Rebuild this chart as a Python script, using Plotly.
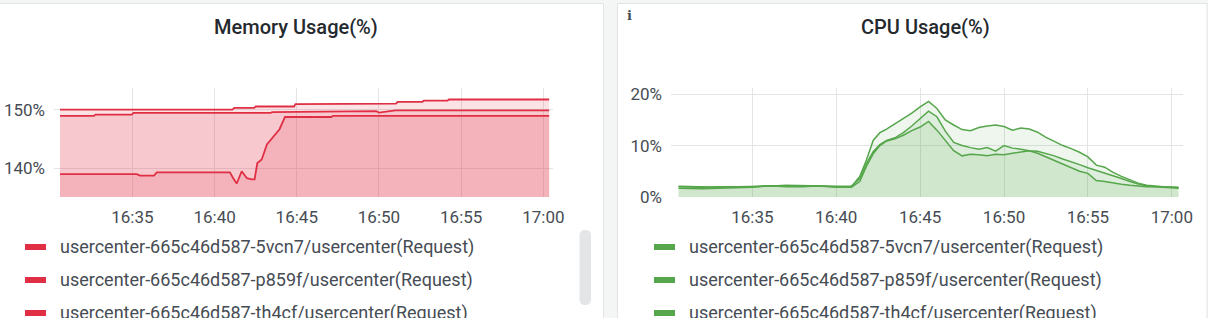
import re
import plotly.graph_objects as go

DAY = "2023-06-01 "
W, H = 1208, 318

# ---------------- data ----------------
legend_names = [
    "usercenter-665c46d587-5vcn7/usercenter(Request)",
    "usercenter-665c46d587-p859f/usercenter(Request)",
    "usercenter-665c46d587-th4cf/usercenter(Request)",
]

mem_t1 = ["16:30:36", "16:41:05", "16:41:12", "16:42:25", "16:42:30", "16:44:50", "16:44:55",
          "16:48:05", "16:48:10", "16:51:02", "16:51:08", "16:52:38", "16:52:44", "16:54:10",
          "16:54:15", "17:00:21"]
mem_v1 = [150.05, 150.05, 150.35, 150.35, 150.6, 150.6, 151.0, 151.0, 151.1, 151.1, 151.4,
          151.4, 151.6, 151.6, 151.8, 151.8]

mem_t2 = ["16:30:36", "16:32:40", "16:32:45", "16:34:58", "16:35:04", "16:43:25", "16:43:30",
          "16:47:00", "16:49:50", "16:50:00", "16:50:50", "16:51:00", "17:00:21"]
mem_v2 = [149.0, 149.0, 149.2, 149.2, 149.5, 149.5, 149.65, 149.75, 149.8, 149.55, 149.8,
          149.95, 149.95]

mem_t3 = ["16:30:36", "16:35:16", "16:35:28", "16:36:19", "16:36:29", "16:40:56", "16:41:08",
          "16:41:21", "16:41:39", "16:41:58", "16:42:16", "16:42:26", "16:42:36", "16:42:52",
          "16:43:11", "16:43:35", "16:43:57", "16:44:17", "16:47:06", "16:47:12", "17:00:21"]
mem_v3 = [139.0, 139.0, 138.75, 138.75, 139.3, 139.3, 138.3, 137.4, 139.5, 138.3, 138.1,
          138.1, 140.9, 141.5, 144.1, 145.5, 146.7, 148.8, 148.8, 149.0, 149.0]

cpu_t = ["16:30:36", "16:32:00", "16:33:00", "16:34:00", "16:35:00", "16:36:00", "16:37:00",
         "16:38:00", "16:39:00", "16:40:00", "16:40:54", "16:41:24", "16:41:48", "16:42:12",
         "16:42:36", "16:43:00", "16:43:30", "16:44:00", "16:44:30", "16:45:00", "16:45:30",
         "16:46:00", "16:46:30", "16:47:00", "16:47:30", "16:48:00", "16:48:30", "16:49:00",
         "16:49:30", "16:50:00", "16:50:30", "16:51:00", "16:51:30", "16:52:00", "16:52:30",
         "16:53:00", "16:53:30", "16:54:00", "16:54:30", "16:55:00", "16:55:30", "16:56:00",
         "16:56:30", "16:57:00", "16:57:30", "16:58:00", "16:58:30", "16:59:00", "16:59:30",
         "17:00:00", "17:00:24"]
cpu_v1 = [2.0, 1.9, 2.0, 2.0, 2.0, 2.2, 2.2, 2.1, 2.1, 2.0, 2.0, 4.0, 7.2, 11.0, 12.5,
          13.2, 14.2, 15.2, 16.3, 17.5, 18.6, 17.2, 15.0, 14.0, 13.1, 12.9, 13.5, 13.8, 14.0,
          13.7, 13.0, 13.4, 13.2, 12.6, 11.6, 10.8, 10.0, 9.4, 8.7, 7.8, 6.2, 5.8, 4.8, 4.0,
          3.3, 2.7, 2.3, 2.1, 2.0, 1.9, 1.8]
cpu_v2 = [2.1, 2.0, 1.9, 2.0, 2.0, 2.1, 2.3, 2.2, 2.1, 2.1, 2.1, 3.6, 6.5, 8.8, 10.2,
          11.0, 11.5, 12.5, 13.8, 15.2, 16.7, 15.6, 12.8, 10.6, 10.0, 9.6, 9.3, 9.6, 8.9,
          10.0, 9.5, 9.3, 9.0, 8.9, 8.5, 8.0, 7.4, 6.9, 6.3, 5.7, 5.2, 4.7, 4.2, 3.6,
          3.0, 2.5, 2.2, 2.0, 2.0, 1.9, 1.9]
cpu_v3 = [1.7, 1.6, 1.7, 1.8, 1.9, 2.2, 2.0, 2.0, 2.2, 1.9, 1.9, 3.0, 6.0, 8.4, 10.0,
          10.9, 11.3, 12.0, 12.9, 13.6, 14.7, 13.0, 11.0, 9.0, 8.0, 8.3, 8.2, 8.0, 8.3,
          8.2, 8.5, 8.8, 9.0, 8.5, 7.8, 7.1, 6.4, 5.8, 5.0, 4.6, 3.2, 3.0, 2.7, 2.5,
          2.3, 2.1, 2.0, 2.0, 1.9, 1.8, 1.7]

mem_ticks = [140, 150]
cpu_ticks = [0, 10, 20]

# ---------------- style ----------------
RED = "#E02F44"
RED_FILL = "rgba(224,47,68,0.14)"
GREEN = "#56A64B"
GREEN_FILL = "rgba(86,166,75,0.10)"
TXT = "#464c54"
GRID = "#e3e4e6"
FONT = "Roboto"


def px_x(p):
    return p / W


def px_y(p):
    return 1 - p / H


fig = go.Figure()

for t, v, name in zip([mem_t1, mem_t2, mem_t3], [mem_v1, mem_v2, mem_v3], legend_names):
    fig.add_trace(go.Scatter(x=[DAY + s for s in t], y=v, name=name, mode="lines",
                             line=dict(color=RED, width=1.8), fill="tozeroy",
                             fillcolor=RED_FILL, xaxis="x", yaxis="y", showlegend=False,
                             opacity=0.9))

for v, name in zip([cpu_v1, cpu_v2, cpu_v3], legend_names):
    fig.add_trace(go.Scatter(x=[DAY + s for s in cpu_t], y=v, name=name, mode="lines",
                             line=dict(color=GREEN, width=1.5), fill="tozeroy",
                             fillcolor=GREEN_FILL, xaxis="x2", yaxis="y2", showlegend=False))

xcommon = dict(type="date", tickformat="%H:%M", dtick=300000, tick0=DAY + "16:35:00",
               showgrid=True, gridcolor=GRID, gridwidth=1, zeroline=False, showline=False,
               ticks="", ticklabelstandoff=8, automargin=False,
               tickfont=dict(family=FONT, size=17, color=TXT))
ycommon = dict(showgrid=True, gridcolor=GRID, gridwidth=1, zeroline=False, showline=False,
               ticks="", ticklabelstandoff=8, automargin=False,
               tickfont=dict(family=FONT, size=17, color=TXT))

ydom = [px_y(197), px_y(88)]

fig.update_layout(
    width=W, height=H,
    margin=dict(l=0, r=0, t=0, b=0, pad=0),
    paper_bgcolor="#f4f5f5",
    plot_bgcolor="rgba(0,0,0,0)",
    showlegend=False,
    xaxis=dict(xcommon, domain=[px_x(54), px_x(553)], anchor="y",
               range=[DAY + "16:30:14", DAY + "17:00:35"]),
    yaxis=dict(ycommon, domain=ydom, range=[135.08, 153.77], anchor="x",
               tickvals=mem_ticks, ticktext=[f"{v}%" for v in mem_ticks]),
    xaxis2=dict(xcommon, domain=[px_x(671), px_x(1183)], anchor="y2",
                range=[DAY + "16:30:09", DAY + "17:00:40"]),
    yaxis2=dict(ycommon, domain=ydom, range=[0, 21.19], anchor="x2",
                tickvals=cpu_ticks, ticktext=[f"{v}%" for v in cpu_ticks]),
)

shapes = []
# panel backgrounds
shapes.append(dict(type="rect", xref="paper", yref="paper", layer="below",
                   x0=px_x(-6), x1=px_x(603.5), y0=px_y(330), y1=px_y(3.5),
                   fillcolor="white", line=dict(color="#e3e4e6", width=1)))
shapes.append(dict(type="rect", xref="paper", yref="paper", layer="below",
                   x0=px_x(617.5), x1=px_x(1207), y0=px_y(330), y1=px_y(3.5),
                   fillcolor="white", line=dict(color="#e3e4e6", width=1)))
# scrollbar in left legend
x0, x1, y0, y1, r = 579.5, 591, 230, 305, 5.5
path = (f"M {x0},{y0 + r} Q {x0},{y0} {x0 + r},{y0} L {x1 - r},{y0} Q {x1},{y0} {x1},{y0 + r} "
        f"L {x1},{y1 - r} Q {x1},{y1} {x1 - r},{y1} L {x0 + r},{y1} Q {x0},{y1} {x0},{y1 - r} Z")


def conv(m):
    a, b = float(m.group(1)), float(m.group(2))
    return f"{px_x(a):.6f},{px_y(b):.6f}"


shapes.append(dict(type="path", xref="paper", yref="paper", layer="above",
                   path=re.sub(r"([\d.]+),([\d.]+)", conv, path),
                   fillcolor="#e4e5e7", line=dict(width=0)))

annotations = []
# titles
annotations.append(dict(text="Memory Usage(%)", x=px_x(296), y=px_y(27), xref="paper", yref="paper",
                        showarrow=False, xanchor="center", yanchor="middle",
                        font=dict(family=FONT, size=20, color="#24292e", weight=500)))
annotations.append(dict(text="CPU Usage(%)", x=px_x(925), y=px_y(27), xref="paper", yref="paper",
                        showarrow=False, xanchor="center", yanchor="middle",
                        font=dict(family=FONT, size=20, color="#24292e", weight=500)))
annotations.append(dict(text="i", x=px_x(629.5), y=px_y(16), xref="paper", yref="paper",
                        showarrow=False, xanchor="center", yanchor="middle",
                        font=dict(family="DejaVu Serif", size=13, color=TXT, weight="bold")))

# legends
rows = [247, 280, 313]
for col_sw, col_tx, color in [((25, 46), 57.5, RED), ((654, 675), 687, GREEN)]:
    for ry, name in zip(rows, legend_names):
        shapes.append(dict(type="rect", xref="paper", yref="paper", layer="above",
                           x0=px_x(col_sw[0]), x1=px_x(col_sw[1]),
                           y0=px_y(ry + 3), y1=px_y(ry - 3),
                           fillcolor=color, line=dict(width=0)))
        annotations.append(dict(text=name, x=px_x(col_tx), y=px_y(ry), xref="paper",
                                yref="paper", showarrow=False, xanchor="left",
                                yanchor="middle",
                                font=dict(family=FONT, size=18, color=TXT)))

fig.update_layout(shapes=shapes, annotations=annotations)
fig.write_html("out.html")
